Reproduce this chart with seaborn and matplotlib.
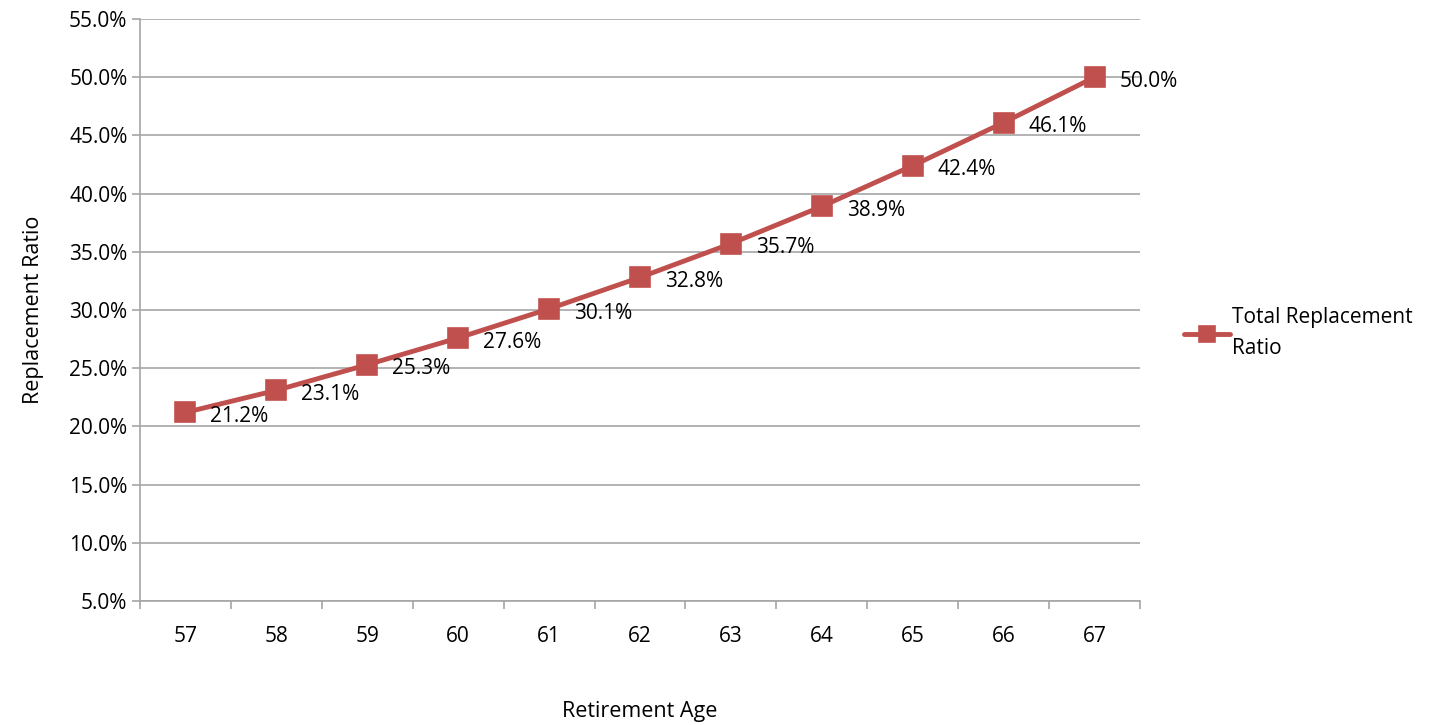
import numpy as np
import pandas as pd
import seaborn as sns
import matplotlib
matplotlib.use("Agg")
import matplotlib.pyplot as plt
from matplotlib.ticker import FuncFormatter, FixedLocator

# --- Data ---
ages = ["57", "58", "59", "60", "61", "62", "63", "64", "65", "66", "67"]
ratios = [0.212, 0.231, 0.253, 0.276, 0.301, 0.328, 0.357, 0.389, 0.424, 0.461, 0.500]
series_name = "Total Replacement\nRatio"

df = pd.DataFrame({"age": ages, "ratio": ratios})

sns.set_style("white")
plt.rcParams["font.family"] = ["Open Sans", "DejaVu Sans"]
plt.rcParams["text.color"] = "black"
plt.rcParams["axes.labelcolor"] = "black"
plt.rcParams["xtick.color"] = "black"
plt.rcParams["ytick.color"] = "black"

red = "#C0504D"
grid_col = "#A6A6A6"
fs = 15

fig = plt.figure(figsize=(14.34, 7.25), dpi=100)
ax = fig.add_axes([140 / 1434, 1 - 601 / 725, 1000 / 1434, 582 / 725])

sns.pointplot(data=df, x="age", y="ratio", color=red, markers="s",
              markersize=13, linewidth=3.5, errorbar=None, ax=ax,
              label=series_name)

# data labels
for i, v in enumerate(ratios):
    ax.annotate(f"{v:.1%}", (i, v), xytext=(18, -3), textcoords="offset points",
                ha="left", va="center", fontsize=fs, color="black")

ax.set_xlim(-0.5, 10.5)
ax.set_ylim(0.05, 0.55)
ax.set_yticks(np.arange(0.05, 0.5501, 0.05))
ax.yaxis.set_major_formatter(FuncFormatter(lambda v, p: f"{v:.1%}"))
ax.yaxis.grid(True, color=grid_col, linewidth=1.2)
ax.set_axisbelow(True)

# category labels centered, tick marks on boundaries
ax.xaxis.set_minor_locator(FixedLocator(np.arange(-0.5, 11, 1)))
ax.tick_params(axis="x", which="major", bottom=True, length=0, pad=18, labelsize=fs)
ax.tick_params(axis="x", which="minor", bottom=True, length=6, width=1.2,
               color=grid_col, direction="out")
ax.tick_params(axis="y", which="major", left=True, length=6, width=1.2, color=grid_col,
               labelcolor="black", direction="out", labelsize=fs, pad=3)

for s in ["top", "right"]:
    ax.spines[s].set_visible(False)
for s in ["left", "bottom"]:
    ax.spines[s].set_color(grid_col)
    ax.spines[s].set_linewidth(1.2)

ax.set_xlabel("Retirement Age", fontsize=fs + 0.5, labelpad=39)
ax.set_ylabel("Replacement Ratio", fontsize=fs + 0.5, labelpad=18)

leg = ax.legend(loc="center left", bbox_to_anchor=(1.025, 0.46), frameon=False,
                fontsize=fs, handlelength=2.2, handletextpad=0.1, alignment="left",
                markerscale=0.8)
for t in leg.get_texts():
    t.set_linespacing(1.6)

plt.savefig("out.png", dpi=100)
plt.close()
